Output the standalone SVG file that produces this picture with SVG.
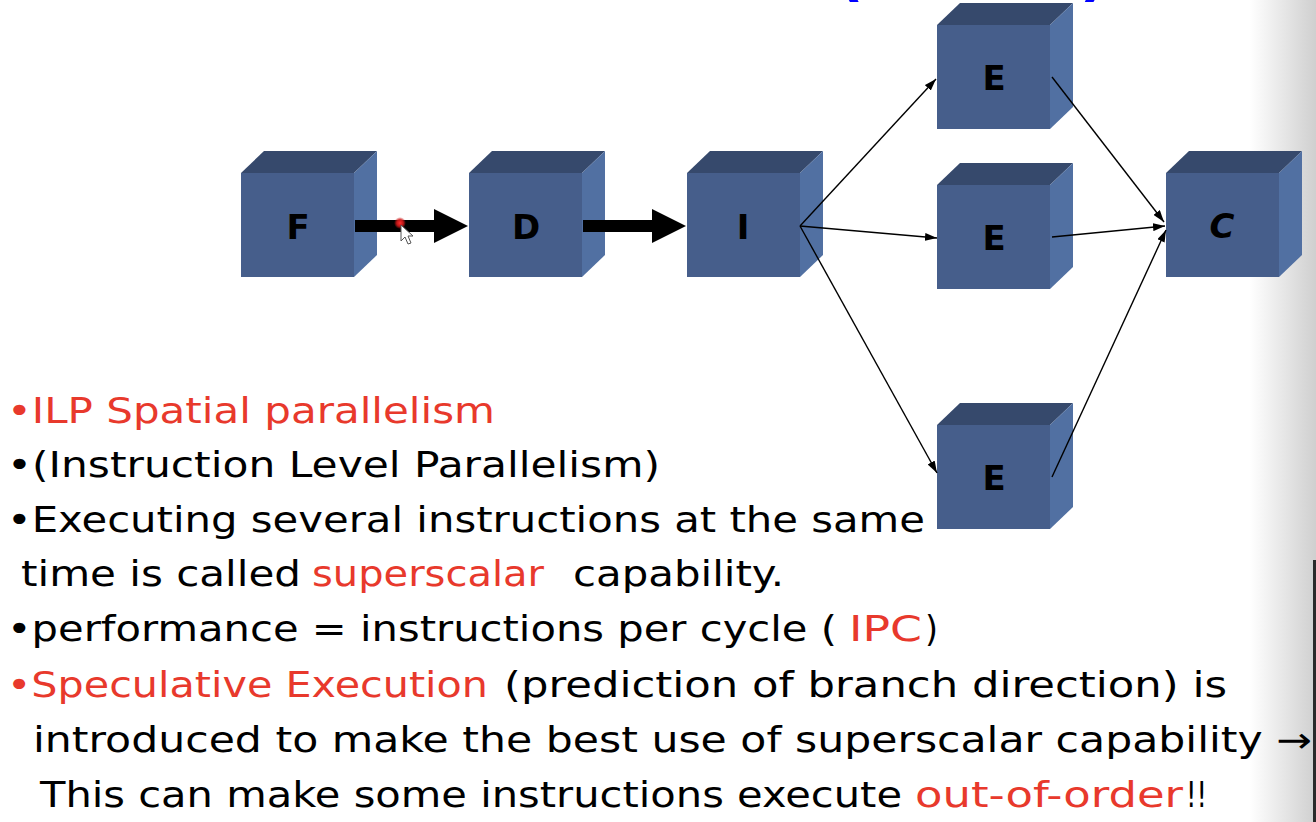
<svg xmlns="http://www.w3.org/2000/svg" width="1316" height="822" viewBox="0 0 1316 822">
  <defs>
    <style>
      .front { fill: #465e8b; }
      .top { fill: #36496c; }
      .side { fill: #5170a2; }
      .lbl { font-family: "DejaVu Sans", "Liberation Sans", sans-serif; font-weight: bold; font-size: 34px; fill: #000; text-anchor: middle; }
      .txt { font-family: "DejaVu Sans", "Liberation Sans", sans-serif; font-size: 35px; }
      .blk { fill: #000; }
      .red { fill: #e8392c; }
      .thin { stroke: #000; stroke-width: 1.4; fill: none; marker-end: url(#tip); }
    </style>
    <marker id="tip" viewBox="0 0 12 8" refX="12" refY="4" markerWidth="12" markerHeight="8" markerUnits="userSpaceOnUse" orient="auto">
      <path d="M0,0 L12,4 L0,8 Z" fill="#000"/>
    </marker>
    <linearGradient id="edge" x1="0" y1="0" x2="1" y2="0">
      <stop offset="0" stop-color="#ffffff"/>
      <stop offset="1" stop-color="#cfcfcf"/>
    </linearGradient>
    <radialGradient id="dot">
      <stop offset="0" stop-color="#ff3030"/>
      <stop offset="0.55" stop-color="#d01818" stop-opacity="0.9"/>
      <stop offset="1" stop-color="#d01818" stop-opacity="0"/>
    </radialGradient>
    <!-- cube: front 113x104, depth offset (23,-22) -->
    <g id="cube">
      <polygon class="top" points="0,0 23,-22 136,-22 113,0"/>
      <polygon class="side" points="113,0 136,-22 136,82 113,104"/>
      <rect class="front" x="0" y="0" width="113" height="104"/>
    </g>
  </defs>

  <rect width="1316" height="822" fill="#fff"/>
  <rect x="1250" y="0" width="66" height="822" fill="url(#edge)"/>
  <rect x="1313" y="560" width="3" height="262" fill="#2a2a2a"/>

  <!-- title fragments at the top edge -->
  <text x="836" y="-6" fill="#0000ff" font-family="DejaVu Sans, sans-serif" font-weight="bold" font-size="60">(</text>
  <text x="1080" y="-6" fill="#0000ff" font-family="DejaVu Sans, sans-serif" font-weight="bold" font-size="60">)</text>

  <!-- pipeline stages -->
  <g id="node-F">
    <use href="#cube" x="241" y="173"/>
    <text class="lbl" x="298" y="239">F</text>
  </g>
  <g id="node-D">
    <use href="#cube" x="469" y="173"/>
    <text class="lbl" x="526" y="239">D</text>
  </g>
  <g id="node-I">
    <use href="#cube" x="687" y="173"/>
    <text class="lbl" x="743" y="239">I</text>
  </g>
  <g id="node-E1">
    <use href="#cube" x="937" y="25"/>
    <text class="lbl" x="994" y="90">E</text>
  </g>
  <g id="node-E2">
    <use href="#cube" x="937" y="185"/>
    <text class="lbl" x="994" y="250">E</text>
  </g>
  <g id="node-E3">
    <use href="#cube" x="937" y="425"/>
    <text class="lbl" x="994" y="490">E</text>
  </g>
  <g id="node-C">
    <use href="#cube" x="1166" y="173"/>
    <text class="lbl" x="1222" y="238" font-style="italic">C</text>
  </g>

  <!-- connectors -->
  <g id="connectors">
    <polygon points="355,220 434,220 434,209 468,226 434,243 434,232 355,232" fill="#000"/>
    <polygon points="583,220 652,220 652,209 686,226 652,243 652,232 583,232" fill="#000"/>
    <line class="thin" x1="800" y1="226" x2="936" y2="79"/>
    <line class="thin" x1="800" y1="226" x2="937" y2="238"/>
    <line class="thin" x1="800" y1="226" x2="937" y2="473"/>
    <line class="thin" x1="1052" y1="77" x2="1164" y2="222"/>
    <line class="thin" x1="1052" y1="237" x2="1165" y2="226"/>
    <line class="thin" x1="1052" y1="477" x2="1166" y2="230"/>
  </g>

  <!-- pointer -->
  <circle cx="400" cy="223" r="6" fill="url(#dot)"/>
  <path d="M401,225 L401,241 L405,237 L408,244 L411,243 L408,236 L413,236 Z" fill="#fff" stroke="#555" stroke-width="1"/>

  <!-- bullet text -->
  <text class="txt red" x="7" y="423" textLength="488" lengthAdjust="spacingAndGlyphs">•ILP Spatial parallelism</text>
  <text class="txt blk" x="7" y="477" textLength="653" lengthAdjust="spacingAndGlyphs">•(Instruction Level Parallelism)</text>
  <text class="txt blk" x="7" y="532" textLength="918" lengthAdjust="spacingAndGlyphs">•Executing several instructions at the same</text>
  <text class="txt blk" x="21" y="586" textLength="280" lengthAdjust="spacingAndGlyphs">time is called</text>
  <text class="txt red" x="312" y="586" textLength="232" lengthAdjust="spacingAndGlyphs">superscalar</text>
  <text class="txt blk" x="573" y="586" textLength="211" lengthAdjust="spacingAndGlyphs">capability.</text>
  <text class="txt blk" x="7" y="641" textLength="830" lengthAdjust="spacingAndGlyphs">•performance =  instructions per cycle (</text>
  <text class="txt red" x="849" y="641" textLength="73" lengthAdjust="spacingAndGlyphs">IPC</text>
  <text class="txt blk" x="925" y="641" textLength="13" lengthAdjust="spacingAndGlyphs">)</text>
  <text class="txt red" x="7" y="697" textLength="481" lengthAdjust="spacingAndGlyphs">•Speculative Execution</text>
  <text class="txt blk" x="504" y="697" textLength="723" lengthAdjust="spacingAndGlyphs">(prediction of branch direction) is</text>
  <text class="txt blk" x="33" y="752" textLength="1279" lengthAdjust="spacingAndGlyphs">introduced to make the best use of superscalar capability →</text>
  <text class="txt blk" x="40" y="807" textLength="862" lengthAdjust="spacingAndGlyphs">This can make some instructions execute</text>
  <text class="txt red" x="915" y="807" textLength="268" lengthAdjust="spacingAndGlyphs">out-of-order</text>
  <text class="txt blk" x="1186" y="807" textLength="21" lengthAdjust="spacingAndGlyphs">!!</text>
</svg>
